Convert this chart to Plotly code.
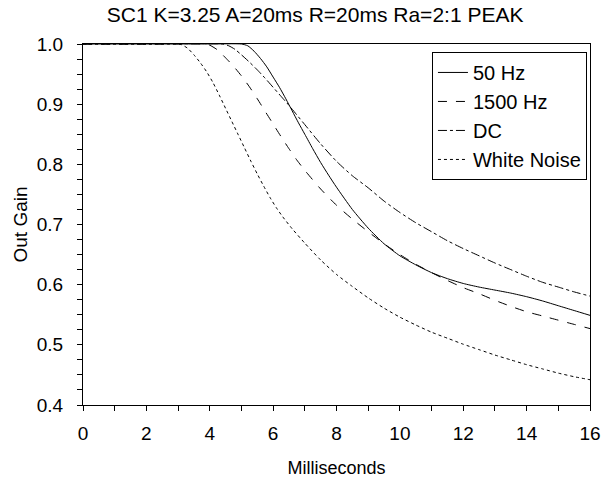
import plotly.graph_objects as go

title = "SC1 K=3.25 A=20ms R=20ms Ra=2:1 PEAK"

t_50 = [0, 2, 4, 5.0, 5.2, 5.4, 5.6, 5.8, 6.0, 6.2, 6.4, 6.6, 6.8, 7.0, 7.25, 7.5, 7.75, 8.0, 8.5, 9.0, 9.5, 10.0, 10.5, 11.0, 11.5, 12.0, 12.5, 13.0, 13.5, 14.0, 14.5, 15.0, 15.5, 16.0]
g_50 = [1, 1, 1, 1.0, 0.997, 0.988, 0.976, 0.962, 0.945, 0.928, 0.909, 0.889, 0.869, 0.85, 0.826, 0.803, 0.782, 0.762, 0.725, 0.694, 0.668, 0.648, 0.633, 0.620, 0.610, 0.602, 0.596, 0.591, 0.586, 0.580, 0.573, 0.565, 0.557, 0.549]

t_1500 = [0, 2, 3.8, 4.0, 4.25, 4.5, 4.75, 5.0, 5.25, 5.5, 5.75, 6.0, 6.25, 6.5, 6.75, 7.0, 7.5, 8.0, 8.5, 9.0, 9.5, 10.0, 10.5, 11.0, 11.5, 12.0, 12.5, 13.0, 13.5, 14.0, 14.5, 15.0, 15.5, 16.0]
g_1500 = [1, 1, 1.0, 0.998, 0.99, 0.977, 0.963, 0.947, 0.929, 0.909, 0.888, 0.867, 0.846, 0.826, 0.807, 0.79, 0.759, 0.732, 0.709, 0.688, 0.668, 0.65, 0.634, 0.62, 0.607, 0.595, 0.585, 0.574, 0.564, 0.555, 0.548, 0.541, 0.534, 0.527]

t_dc = [0, 2, 4.4, 4.6, 4.8, 5.0, 5.25, 5.5, 5.75, 6.0, 6.25, 6.5, 6.75, 7.0, 7.5, 8.0, 8.5, 9.0, 9.5, 10.0, 10.5, 11.0, 11.5, 12.0, 12.5, 13.0, 13.5, 14.0, 14.5, 15.0, 15.5, 16.0]
g_dc = [1, 1, 1.0, 0.997, 0.991, 0.982, 0.97, 0.957, 0.943, 0.928, 0.913, 0.898, 0.882, 0.866, 0.834, 0.805, 0.781, 0.761, 0.739, 0.72, 0.703, 0.688, 0.673, 0.66, 0.648, 0.636, 0.625, 0.614, 0.604, 0.596, 0.588, 0.581]

t_wn = [0, 2, 2.9, 3.1, 3.3, 3.5, 3.7, 3.9, 4.1, 4.3, 4.5, 4.7, 4.9, 5.1, 5.3, 5.5, 5.7, 5.9, 6.1, 6.3, 6.6, 7.0, 7.5, 8.0, 8.5, 9.0, 9.5, 10.0, 10.5, 11.0, 11.5, 12.0, 12.5, 13.0, 13.5, 14.0, 14.5, 15.0, 15.5, 16.0]
g_wn = [1, 1, 1.0, 0.999, 0.993, 0.982, 0.969, 0.954, 0.936, 0.915, 0.893, 0.871, 0.849, 0.827, 0.805, 0.784, 0.764, 0.745, 0.728, 0.713, 0.693, 0.669, 0.641, 0.617, 0.597, 0.578, 0.561, 0.546, 0.533, 0.521, 0.511, 0.501, 0.492, 0.483, 0.475, 0.467, 0.46, 0.453, 0.447, 0.442]

x_ticks = [0, 2, 4, 6, 8, 10, 12, 14, 16]
y_ticks = [0.4, 0.5, 0.6, 0.7, 0.8, 0.9, 1.0]

font = "Liberation Sans, Arial, sans-serif"

fig = go.Figure()
series = [
    ("50 Hz", t_50, g_50, "solid"),
    ("1500 Hz", t_1500, g_1500, "dash"),
    ("DC", t_dc, g_dc, "dashdot"),
    ("White Noise", t_wn, g_wn, "dot"),
]
for name, t, g, dash in series:
    fig.add_trace(go.Scatter(
        x=t, y=g, name=name, mode="lines",
        line=dict(color="black", width=1, dash=dash, shape="spline", smoothing=0.6),
    ))

fig.update_layout(
    width=613, height=486,
    margin=dict(l=83, r=13, t=44, b=76),
    paper_bgcolor="white", plot_bgcolor="white",
    font=dict(family=font, size=19, color="black"),
    title=dict(text=title, x=0.514, xref="container", xanchor="center",
               y=0.969, yref="container", yanchor="middle",
               font=dict(family=font, size=21, color="black")),
    showlegend=True,
    legend=dict(x=0.994, xanchor="right", y=0.978, yanchor="top",
                bordercolor="black", borderwidth=1, bgcolor="white",
                font=dict(family=font, size=20), itemwidth=30,
                tracegroupgap=0),
)
fig.update_xaxes(
    range=[0, 16], tickvals=x_ticks, ticktext=[str(v) for v in x_ticks],
    showgrid=False, zeroline=False,
    showline=True, linecolor="black", linewidth=1, mirror=True,
    ticks="outside", ticklen=5, tickcolor="black", ticklabelstandoff=6,
    minor=dict(dtick=1, ticks="outside", ticklen=5, tickcolor="black"),
    title=dict(text="Milliseconds", font=dict(size=18), standoff=18),
)
fig.update_yaxes(
    range=[0.4, 1.0], tickvals=y_ticks, ticktext=[f"{v:.1f}" for v in y_ticks],
    showgrid=False, zeroline=False,
    showline=True, linecolor="black", linewidth=1, mirror=True,
    ticks="outside", ticklen=5, tickcolor="black", ticklabelstandoff=10,
    minor=dict(dtick=0.025, tick0=0.4, ticks="outside", ticklen=5, tickcolor="black"),
    title=dict(text="Out Gain", font=dict(size=19), standoff=4),
)

fig.write_html("out.html", config={"displayModeBar": False},
               post_script="document.body.style.margin='0';")
